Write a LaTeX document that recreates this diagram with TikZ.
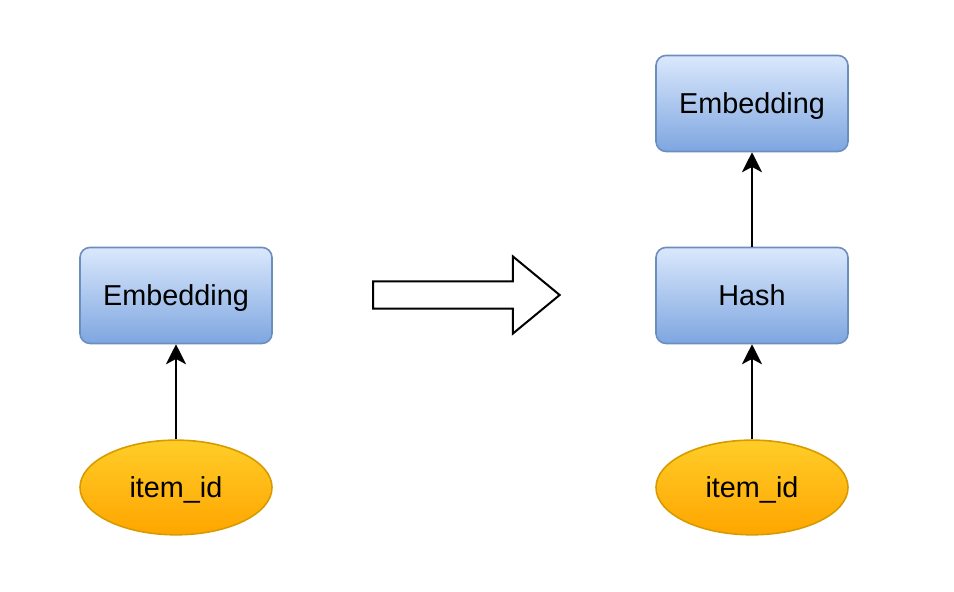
\documentclass[tikz,border=0pt]{standalone}
\usepackage{fontspec}
\setmainfont{Liberation Sans}
\usetikzlibrary{shapes.geometric, shapes.arrows, arrows.meta}
\definecolor{boxtop}{HTML}{DAE8FC}
\definecolor{boxbot}{HTML}{7EA6E0}
\definecolor{boxline}{HTML}{6C8EBF}
\definecolor{idtop}{HTML}{FFCD28}
\definecolor{idbot}{HTML}{FFA500}
\definecolor{idline}{HTML}{D79B00}
\tikzstyle{block} = [rectangle, rounded corners=7.5pt, minimum width=144pt, minimum height=72pt, text centered, text height=15.5pt, text depth=0pt, draw=boxline, line width=1.2pt, top color=boxtop, bottom color=boxbot, font=\fontsize{21.6}{26}\selectfont]
\tikzstyle{feature} = [ellipse, inner sep=0pt, minimum width=144pt, minimum height=71pt, text height=15.5pt, text depth=0pt, draw=idline, line width=1.2pt, top color=idtop, bottom color=idbot, font=\fontsize{21.6}{26}\selectfont]
\tikzstyle{arrow} = [line width=1.5pt, -{Stealth[length=15pt, width=15pt, inset=4pt]}]
\tikzstyle{bigarrow} = [single arrow, draw=black, line width=1.5pt, fill=white, inner xsep=0pt, inner ysep=9.4pt, minimum height=140pt, single arrow head extend=18.75pt, single arrow tip angle=79]

\begin{document}
\begin{tikzpicture}[node distance=144pt]
\useasboundingbox (0,0) rectangle (715.5pt,-444pt);

\node (item_l) [feature] at (132pt,-365.6pt) {item\_id};

\node (emb_l) [block, above of=item_l] {Embedding};

\node (change) [bigarrow, anchor=tail] at (279pt,-221.25pt) {};

\node (item_r) [feature, right of=item_l, xshift=288pt] {item\_id};

\node (hash) [block, above of=item_r] {Hash};

\node (emb_r) [block, above of=hash] {Embedding};

\draw [arrow] (item_l) -- (emb_l);
\draw [arrow] (item_r) -- (hash);
\draw [arrow] (hash) -- (emb_r);

\end{tikzpicture}
\end{document}
